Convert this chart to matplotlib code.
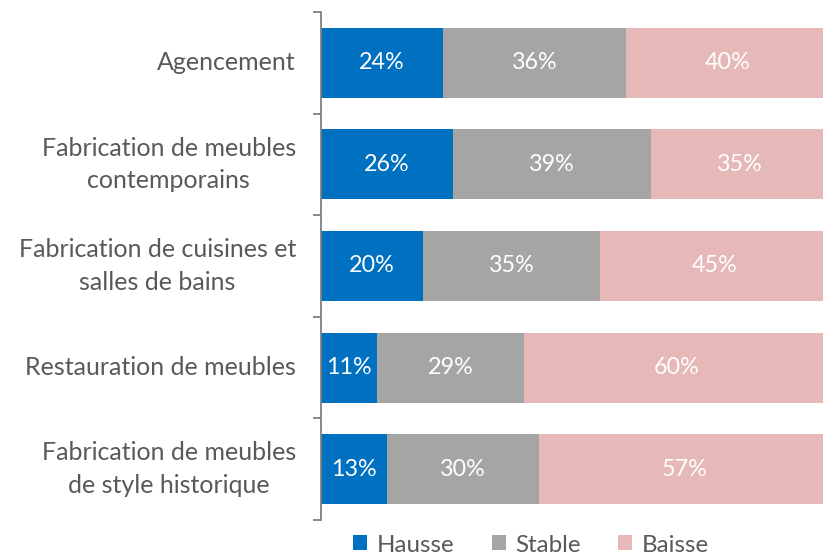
import matplotlib.pyplot as plt
import numpy as np

categories = [
    "Agencement",
    "Fabrication de meubles\ncontemporains",
    "Fabrication de cuisines et\nsalles de bains",
    "Restauration de meubles",
    "Fabrication de meubles\nde style historique",
]
series_names = ["Hausse", "Stable", "Baisse"]
hausse = [24, 26, 20, 11, 13]
stable = [36, 39, 35, 29, 30]
baisse = [40, 35, 45, 60, 57]
colors = ["#0070C0", "#A5A5A5", "#E6B8B7"]

plt.rcParams['font.family'] = ['Lato', 'DejaVu Sans']

fig = plt.figure(figsize=(8.23, 5.55), dpi=100)
W, H = 823, 555
# axes runs a bit past the right edge, the original bars are cut off there
ax = fig.add_axes([321 / W, 1 - 520 / H, (829 - 321) / W, (520 - 12) / H])

y = np.arange(len(categories))
left = np.zeros(len(categories))
for name, vals, col in zip(series_names, [hausse, stable, baisse], colors):
    ax.barh(y, vals, left=left, height=0.69, color=col, label=name)
    for yi, l, v in zip(y, left, vals):
        ax.text(l + v / 2, yi, f"{v}%", ha='center', va='center',
                color='white', fontsize=16.8)
    left += np.array(vals)

ax.set_xlim(0, 100)
ax.set_ylim(len(categories) - 0.5, -0.5)
ax.set_xticks([])
ax.set_yticks(y)
ax.set_yticklabels(categories, fontsize=18, color='#595959',
                   multialignment='center', linespacing=1.5, va='center')
ax.tick_params(axis='y', which='major', length=0, pad=18)
ax.set_yticks(np.arange(-0.5, len(categories)), minor=True)
ax.tick_params(axis='y', which='minor', length=6, width=1.3, color='#808080')

for s in ['top', 'right', 'bottom']:
    ax.spines[s].set_visible(False)
ax.spines['left'].set_color('#808080')
ax.spines['left'].set_linewidth(1.3)

leg = fig.legend(loc='center', bbox_to_anchor=(531 / W, 1 - 545 / H), ncol=3,
                 frameon=False, fontsize=17.4, handlelength=0.58, handleheight=0.58,
                 handletextpad=0.4, columnspacing=1.55, borderpad=0)
for t in leg.get_texts():
    t.set_color('#595959')

fig.savefig("out.png", dpi=100)
